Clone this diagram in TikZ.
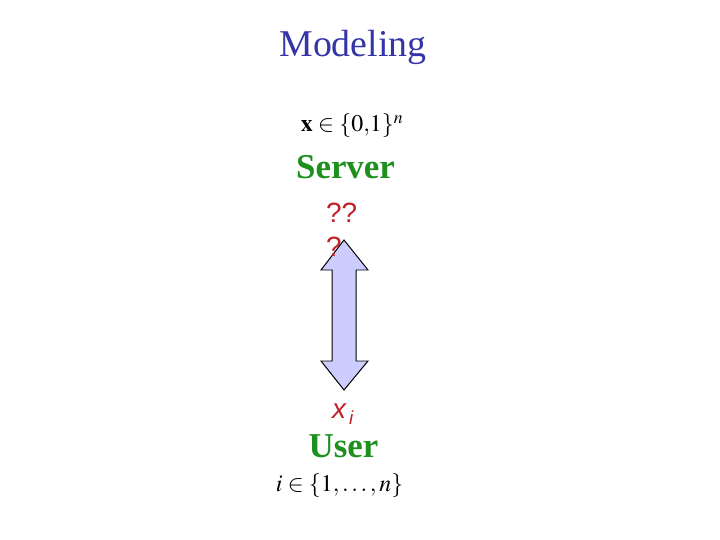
\documentclass[tikz,border=0pt]{standalone}
\usepackage{mathptmx}
\usepackage{fontspec}
\setmainfont{Liberation Serif}
\setsansfont{Liberation Sans}
\usepackage{tikz}
\definecolor{mtitle}{HTML}{3535A8}
\definecolor{mgreen}{HTML}{1E901E}
\definecolor{mred}{HTML}{C0202A}
\definecolor{mfill}{HTML}{CCCCFF}
\tikzset{
  party/.style={text=mgreen, font=\bfseries\fontsize{35}{40}\selectfont, anchor=base, inner sep=0pt},
  setlabel/.style={font=\fontsize{24}{28}\selectfont, anchor=base, inner sep=0pt},
  query/.style={text=mred, font=\sffamily\fontsize{28}{35}\selectfont, inner sep=0pt}
}

\begin{document}
\begin{tikzpicture}[x=1bp, y=-1bp]
\useasboundingbox (0,0) rectangle (720,540);
\node[text=mtitle, font=\fontsize{38}{44}\selectfont, anchor=base, inner sep=0pt] (title) at (353,57) {Modeling};
\node[setlabel] (db) at (352,132) {$\mathbf{x}\in\{0{,}1\}^n$};
\node[party] (server) at (345.5,179) {Server};
% block arrow between server and user
\coordinate (top) at (344,240);
\coordinate (bot) at (344,390);
\draw[fill=mfill, line width=1pt, line join=miter]
  (top) -- (368,270) -- (356,270) -- (356,361) -- (368,361) -- (bot)
  -- (321,361) -- (332,361) -- (332,270) -- (321,270) -- cycle;
\node[query, align=left, anchor=base west] (ans) at (326,257) {??\\?};
\node[query, anchor=base west] (bit) at (332,418) {\itshape x\hspace{3bp}\raisebox{-6bp}{\fontsize{19}{19}\selectfont i}};
\node[party] (user) at (343.5,457) {User};
\node[setlabel] (idx) at (339.5,491) {$i\in\{1{,}\ldots{,}\,n\}$};
\end{tikzpicture}
\end{document}
